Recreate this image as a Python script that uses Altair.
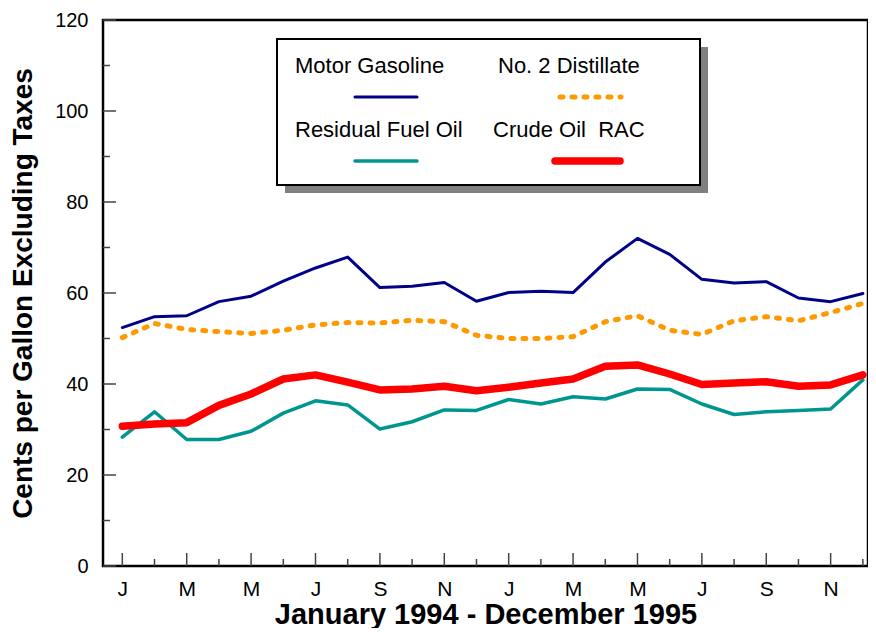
import json
import altair as alt
import pandas as pd

# ---- data (cents per gallon, Jan 1994 .. Dec 1995) ----
month_index = list(range(24))
tick_labels = ["J", "M", "M", "J", "S", "N", "J", "M", "M", "J", "S", "N"]
motor_gasoline = [52.4, 54.8, 55.0, 58.1, 59.3, 62.6, 65.5, 67.9, 61.2, 61.5, 62.3, 58.2,
                  60.1, 60.4, 60.1, 66.8, 72.0, 68.5, 63.0, 62.2, 62.5, 58.9, 58.1, 59.9]
no2_distillate = [50.2, 53.3, 52.0, 51.5, 51.1, 51.8, 53.0, 53.5, 53.4, 54.0, 53.7, 50.7,
                  50.0, 50.0, 50.4, 53.7, 55.0, 51.8, 50.9, 53.9, 54.8, 53.9, 55.7, 57.7]
residual_fuel = [28.3, 33.9, 27.8, 27.8, 29.6, 33.6, 36.3, 35.4, 30.1, 31.7, 34.3, 34.2,
                 36.6, 35.6, 37.2, 36.7, 38.9, 38.8, 35.6, 33.3, 33.9, 34.2, 34.5, 40.9]
crude_rac = [30.7, 31.2, 31.5, 35.3, 37.8, 41.1, 42.0, 40.4, 38.7, 38.9, 39.5, 38.5,
             39.3, 40.2, 41.1, 43.9, 44.2, 42.2, 39.9, 40.2, 40.5, 39.5, 39.8, 42.0]
y_major = [0, 20, 40, 60, 80, 100, 120]
y_minor = [10, 30, 50, 70, 90, 110]

FONT = "Liberation Sans"
W, H = 765, 546

xscale = alt.Scale(domain=[-0.6, 23.16], nice=False, zero=False)
yscale = alt.Scale(domain=[0, 120], nice=False)

label_expr = "%s[round(datum.value / 2)]" % json.dumps(tick_labels)

x_axis = alt.Axis(values=list(range(0, 24, 2)), labelExpr=label_expr, ticks=False, domain=False,
                  grid=False, labelFont=FONT, labelFontSize=21, labelColor="black", labelPadding=12,
                  title="January 1994 - December 1995", titleFont=FONT, titleFontSize=29,
                  titleFontWeight="bold", titleColor="black", titlePadding=1)
y_axis = alt.Axis(values=y_major, ticks=False, domain=False, grid=False, labelFont=FONT,
                  labelFontSize=20, labelColor="black", labelPadding=15,
                  title="Cents per Gallon Excluding Taxes", titleFont=FONT, titleFontSize=28,
                  titleFontWeight="bold", titleColor="black", titlePadding=17)

X = lambda f: alt.X(f, scale=xscale, axis=x_axis)
Y = lambda f: alt.Y(f, scale=yscale, axis=y_axis)


def series(values, name):
    return pd.DataFrame({"m": month_index, "v": values, "s": name})


def line_layer(values, name, color, width, dash=None):
    kw = dict(color=color, strokeWidth=width, strokeJoin="round", strokeCap="round")
    if dash:
        kw["strokeDash"] = dash
    return alt.Chart(series(values, name)).mark_line(**kw).encode(x=X("m:Q"), y=Y("v:Q"))


one = pd.DataFrame({"a": [0]})

# inward tick marks
x_major = alt.Chart(pd.DataFrame({"m": list(range(0, 24, 2))})).mark_rule(
    color="#444", strokeWidth=1.5).encode(x=X("m:Q"), y=alt.value(H), y2=alt.value(H - 13))
x_minor = alt.Chart(pd.DataFrame({"m": list(range(1, 24, 2))})).mark_rule(
    color="#444", strokeWidth=1.5).encode(x=X("m:Q"), y=alt.value(H), y2=alt.value(H - 7))
y_major_t = alt.Chart(pd.DataFrame({"v": y_major})).mark_rule(
    color="#444", strokeWidth=1.5).encode(y=Y("v:Q"), x=alt.value(0), x2=alt.value(13))
y_minor_t = alt.Chart(pd.DataFrame({"v": y_minor})).mark_rule(
    color="#444", strokeWidth=1.5).encode(y=Y("v:Q"), x=alt.value(0), x2=alt.value(7))

lines = [
    line_layer(motor_gasoline, "Motor Gasoline", "#000088", 3),
    line_layer(no2_distillate, "No. 2 Distillate", "#FF9900", 5, dash=[3, 9]),
    line_layer(residual_fuel, "Residual Fuel Oil", "#009690", 3.5),
    line_layer(crude_rac, "Crude Oil RAC", "#FF0000", 7.5),
]

# legend box with drop shadow (pixel offsets inside the plot area)
shadow = alt.Chart(one).mark_rect(color="#808080").encode(
    x=alt.value(182), x2=alt.value(605), y=alt.value(27), y2=alt.value(173))
box = alt.Chart(one).mark_rect(fill="white", stroke="black", strokeWidth=2).encode(
    x=alt.value(174), x2=alt.value(597), y=alt.value(19), y2=alt.value(165))


def leg_text(label, x, y):
    return alt.Chart(one).mark_text(align="left", baseline="alphabetic", font=FONT, fontSize=22,
                                    color="black").encode(
        x=alt.value(x), y=alt.value(y), text=alt.value(label))


def leg_line(x1, x2, y, color, width, dash=None):
    kw = dict(color=color, strokeWidth=width, strokeCap="round")
    if dash:
        kw["strokeDash"] = dash
    return alt.Chart(one).mark_rule(**kw).encode(x=alt.value(x1), x2=alt.value(x2), y=alt.value(y))


legend = [
    shadow, box,
    leg_text("Motor Gasoline", 192, 53),
    leg_text("No. 2 Distillate", 395, 53),
    leg_text("Residual Fuel Oil", 192, 117),
    leg_text("Crude Oil\u00a0 RAC", 390, 117),
    leg_line(252, 314, 77, "#000088", 3),
    leg_line(457, 518, 77, "#FF9900", 5, dash=[3, 9]),
    leg_line(252, 314, 141, "#009690", 3.5),
    leg_line(452, 517, 141, "#FF0000", 7.5),
]

chart = alt.layer(*lines, x_major, x_minor, y_major_t, y_minor_t, *legend).properties(
    width=W, height=H,
    autosize=alt.AutoSizeParams(type="none"),
    padding={"left": 95, "top": 12, "right": 0, "bottom": 62},
    background="white",
).configure_view(stroke="black", strokeWidth=2.5)

chart.save("out.html", embed_options={"renderer": "svg", "actions": False})
